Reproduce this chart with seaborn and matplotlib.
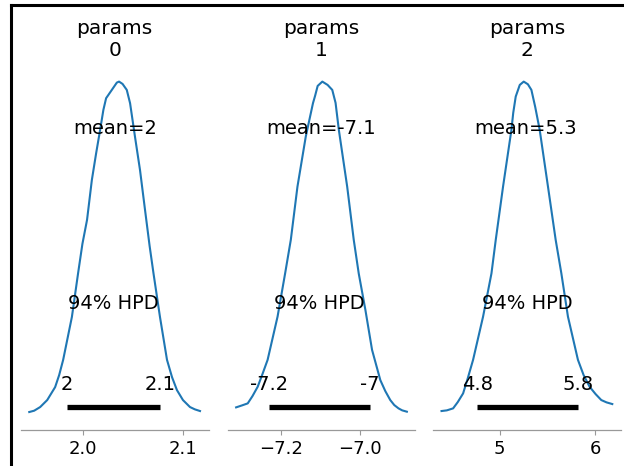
import numpy as np
import pandas as pd
import matplotlib
matplotlib.use("Agg")
import matplotlib.pyplot as plt
from matplotlib.lines import Line2D
import seaborn as sns

# ---- data (relative density, peak = 1) ----
p0_x = [1.9465, 1.9514, 1.9574, 1.9644, 1.9723, 1.9763, 1.9803, 1.9890, 1.9952,
        1.9995, 2.0041, 2.0089, 2.0132, 2.0171, 2.0204, 2.0231, 2.0288, 2.0338,
        2.0360, 2.0395, 2.0437, 2.0470, 2.0519, 2.0569, 2.0619, 2.0665, 2.0703,
        2.0768, 2.0838, 2.0888, 2.0937, 2.0997, 2.1067, 2.1116, 2.1167]
p0_y = [0.006, 0.010, 0.021, 0.042, 0.081, 0.117, 0.163, 0.292, 0.424,
        0.512, 0.584, 0.704, 0.785, 0.854, 0.915, 0.950, 0.975, 0.997,
        1.000, 0.993, 0.975, 0.935, 0.834, 0.734, 0.614, 0.505, 0.424,
        0.292, 0.163, 0.111, 0.072, 0.042, 0.021, 0.014, 0.009]

p1_x = [-7.3125, -7.2975, -7.2833, -7.2713, -7.2583, -7.2463, -7.2333, -7.2083,
        -7.1893, -7.1750, -7.1583, -7.1375, -7.1193, -7.1138, -7.1075, -7.0958,
        -7.0825, -7.0763, -7.0708, -7.0625, -7.0543, -7.0333, -7.0168, -7.0043,
        -6.9875, -6.9708, -6.9500, -6.9375, -6.9250, -6.9150, -6.9043, -6.8950, -6.8833]
p1_y = [0.020, 0.026, 0.032, 0.054, 0.082, 0.120, 0.163, 0.293,
        0.423, 0.524, 0.684, 0.834, 0.935, 0.958, 0.987, 1.000,
        0.990, 0.982, 0.975, 0.936, 0.855, 0.684, 0.524, 0.423,
        0.313, 0.193, 0.102, 0.069, 0.042, 0.027, 0.017, 0.011, 0.007]

p2_x = [4.3895, 4.4450, 4.5110, 4.5600, 4.6157, 4.6650, 4.7204, 4.8251, 4.9131,
        4.9581, 5.0346, 5.1225, 5.1414, 5.1675, 5.2100, 5.2513, 5.2950, 5.3319,
        5.3717, 5.4188, 5.5058, 5.5864, 5.6461, 5.7152, 5.8199, 5.8796, 5.9424,
        6.0050, 6.0649, 6.1200, 6.1801]
p2_y = [0.009, 0.011, 0.017, 0.036, 0.062, 0.108, 0.163, 0.293, 0.423,
        0.524, 0.684, 0.855, 0.906, 0.955, 0.990, 1.000, 0.992, 0.975,
        0.924, 0.855, 0.684, 0.524, 0.423, 0.293, 0.163, 0.117, 0.082,
        0.060, 0.042, 0.035, 0.030]

titles = ["params\n0", "params\n1", "params\n2"]
means = [2.032, -7.098, 5.274]
mean_labels = ["mean=2", "mean=-7.1", "mean=5.3"]
hpd_low = [1.984, -7.229, 4.766]
hpd_high = [2.0768, -6.977, 5.820]
hpd_low_labels = ["2", "-7.2", "4.8"]
hpd_high_labels = ["2.1", "-7", "5.8"]
hpd_text = "94% HPD"
xticks = [[2.0, 2.1], [-7.2, -7.0], [5, 6]]
xticklabels = [["2.0", "2.1"], ["\u22127.2", "\u22127.0"], ["5", "6"]]

xs = [p0_x, p1_x, p2_x]
ys = [p0_y, p1_y, p2_y]

# ---- figure ----
fig = plt.figure(figsize=(6.24, 4.66), dpi=100)
lefts = [0.0332, 0.3647, 0.6939]
width = 0.3010
bottom, top = 0.0773, 0.8627

for i in range(3):
    ax = fig.add_axes([lefts[i], bottom, width, top - bottom])
    df = pd.DataFrame({"x": xs[i], "density": ys[i]})
    sns.lineplot(data=df, x="x", y="density", ax=ax, color="#1f77b4",
                 linewidth=1.5, estimator=None, sort=False)
    ax.set_ylim(-0.048, 1.053)
    H = ax.get_ylim()[1]
    ax.plot([hpd_low[i], hpd_high[i]], [0.02 * H, 0.02 * H], color="k",
            lw=3.8, solid_capstyle="butt")
    ax.text(hpd_low[i], 0.07 * H, hpd_low_labels[i], ha="center", fontsize=14)
    ax.text(hpd_high[i], 0.07 * H, hpd_high_labels[i], ha="center", fontsize=14)
    ax.text((hpd_low[i] + hpd_high[i]) / 2, 0.3 * H, hpd_text, ha="center", fontsize=14)
    ax.text(means[i], 0.8 * H, mean_labels[i], ha="center", fontsize=14)
    ax.set_title(titles[i], fontsize=14.5, pad=6)
    ax.set_xticks(xticks[i])
    ax.set_xticklabels(xticklabels[i])
    ax.tick_params(axis="x", labelsize=13, color="#999999", length=3.5, width=0.8)
    ax.set_yticks([])
    ax.set_xlabel("")
    ax.set_ylabel("")
    for s in ["left", "right", "top"]:
        ax.spines[s].set_visible(False)
    ax.spines["bottom"].set_color("#999999")
    ax.spines["bottom"].set_linewidth(0.9)
    ax.set_facecolor("white")

# figure frame (partially visible)
fx = 10.5 / 624
fy = 1 - 4.5 / 466
fig.add_artist(Line2D([fx, fx], [0, fy], color="k", lw=2.2, transform=fig.transFigure))
fig.add_artist(Line2D([fx, 1], [fy, fy], color="k", lw=2.2, transform=fig.transFigure))

fig.savefig("out.png", dpi=100, facecolor="white")
